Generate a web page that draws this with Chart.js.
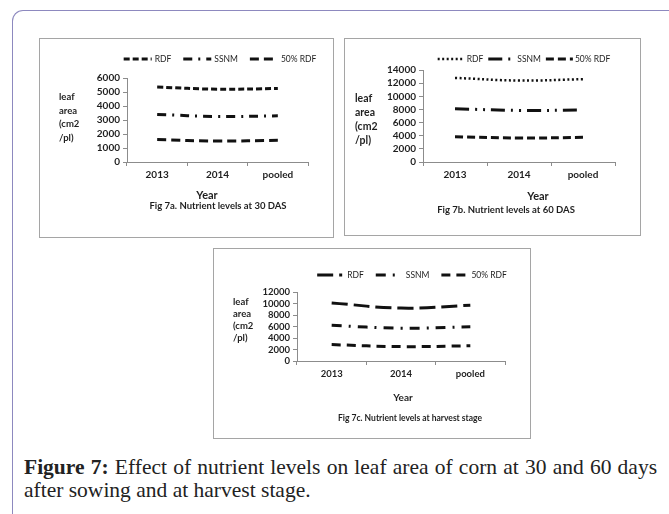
<!DOCTYPE html>
<html>
<head>
<meta charset="utf-8">
<script src="https://cdn.jsdelivr.net/npm/chart.js@4.4.1/dist/chart.umd.min.js"></script>
<style>
html, body { margin: 0; padding: 0; background: #fff; width: 669px; height: 514px; overflow: hidden; }
#frame { position: absolute; left: 12px; top: 10px; width: 720px; height: 600px; border-top: 1.5px solid #8d89bf; border-left: 1.5px solid #8d89bf; border-top-left-radius: 11px; }
.panel { position: absolute; border: 1px solid #a5a5a5; box-sizing: border-box; }
.panel canvas { position: absolute; left: -1px; top: -1px; }
#caption { position: absolute; left: 24px; top: 456px; width: 633px; font-family: "Liberation Serif", "Times New Roman", serif; font-size: 21.5px; line-height: 23px; color: #222; }
#caption .l1 { text-align: justify; text-align-last: justify; white-space: nowrap; }
</style>
</head>
<body>
<div id="frame"></div>
<div class="panel" style="left:39px;top:38px;width:295px;height:200px"><canvas id="c30"></canvas></div>
<div class="panel" style="left:344px;top:38px;width:297px;height:198px"><canvas id="c60"></canvas></div>
<div class="panel" style="left:213px;top:248px;width:318px;height:191px"><canvas id="cHarvest"></canvas></div>
<div id="caption"><div class="l1"><b>Figure 7:</b> Effect of nutrient levels on leaf area of corn at 30 and 60 days</div><div>after sowing and at harvest stage.</div></div>
<script>
// data
const years = ['2013', '2014', 'pooled'];
const seriesNames = ['RDF', 'SSNM', '50% RDF'];

const rdf30 = [5350, 5200, 5250];
const ssnm30 = [3400, 3250, 3300];
const half30 = [1600, 1500, 1550];

const rdf60 = [12800, 12400, 12600];
const ssnm60 = [8100, 7850, 7900];
const half60 = [3850, 3650, 3750];

const rdfHarvest = [10100, 9200, 9700];
const ssnmHarvest = [6200, 5700, 5950];
const halfHarvest = [2850, 2500, 2650];

const ticks30 = [0, 1000, 2000, 3000, 4000, 5000, 6000];
const ticks60 = [0, 2000, 4000, 6000, 8000, 10000, 12000, 14000];
const ticksHarvest = [0, 2000, 4000, 6000, 8000, 10000, 12000];

const yTitle = ['leaf', 'area', '(cm2', '/pl)'];
const xTitle = 'Year';
const titles = ['Fig 7a. Nutrient levels at 30 DAS', 'Fig 7b. Nutrient levels at 60 DAS', 'Fig 7c. Nutrient levels at harvest stage'];

const ink = '#1f1f1f';
const axisGray = '#8c8c8c';
const FONT = 'Lato, "Open Sans", sans-serif';

// legend, axis title and panel title, drawn on the canvas
const sideText = {
    id: 'sideText',
    afterDraw(chart, args, o) {
        const ctx = chart.ctx;
        ctx.save();
        ctx.fillStyle = ink;
        ctx.textBaseline = 'middle';

        ctx.textAlign = 'left';
        ctx.font = `bold ${o.yFont}px ${FONT}`;
        o.yText.forEach((t, i) => ctx.fillText(t, o.yX, o.yY + i * o.yStep));

        ctx.textAlign = 'center';
        ctx.font = `bold ${o.xFont}px ${FONT}`;
        ctx.fillText(o.xText, o.xX, o.xY);
        ctx.font = `bold ${o.tFont}px ${FONT}`;
        ctx.fillText(o.tText, o.tX, o.tY);

        ctx.textAlign = 'left';
        ctx.font = `${o.legFont}px ${FONT}`;
        const sets = chart.data.datasets;
        const widths = sets.map(d => ctx.measureText(d.label).width);
        let total = o.spacing * (sets.length - 1);
        widths.forEach(w => total += o.lineLen + o.gap + w);
        let x = o.legX - total / 2;
        sets.forEach((d, i) => {
            ctx.beginPath();
            ctx.setLineDash(d.borderDash);
            ctx.lineWidth = d.borderWidth;
            ctx.strokeStyle = d.borderColor;
            ctx.moveTo(x, o.legY); ctx.lineTo(x + o.lineLen, o.legY);
            ctx.stroke();
            ctx.setLineDash([]);
            ctx.fillText(d.label, x + o.lineLen + o.gap, o.legY);
            x += o.lineLen + o.gap + widths[i] + o.spacing;
        });
        ctx.restore();
    }
};

function makePanel(id, w, h, values, dashes, lineWidths, ticks, lay, text) {
    const cv = document.getElementById(id);
    cv.width = w; cv.height = h;
    cv.style.width = w + 'px'; cv.style.height = h + 'px';
    const tickFont = { family: FONT, weight: 'bold', size: lay.tickFont };
    return new Chart(cv, {
        type: 'line',
        data: {
            labels: years,
            datasets: seriesNames.map((n, i) => ({
                label: n, data: values[i], borderColor: '#111', borderWidth: lineWidths[i],
                borderDash: dashes[i], pointRadius: 0, tension: 0.4, fill: false
            }))
        },
        options: {
            responsive: false, animation: false, devicePixelRatio: 1,
            layout: { padding: { top: lay.top, left: 0, right: w - lay.right, bottom: h - lay.bottom - 20 } },
            plugins: { legend: { display: false }, tooltip: { enabled: false }, sideText: text },
            scales: {
                x: {
                    offset: true,
                    grid: { offset: true, drawOnChartArea: false, tickLength: 4, color: axisGray },
                    border: { color: axisGray },
                    ticks: { color: ink, font: tickFont, padding: 3, maxRotation: 0 },
                    afterFit: s => { s.height = 20; }
                },
                y: {
                    min: ticks[0], max: ticks[ticks.length - 1],
                    afterBuildTicks: s => { s.ticks = ticks.map(v => ({ value: v })); },
                    grid: { drawOnChartArea: false, tickLength: 4, color: axisGray },
                    border: { color: axisGray },
                    ticks: { color: ink, font: tickFont, padding: 3, autoSkip: false, callback: v => String(v) },
                    afterFit: s => { s.width = lay.left; }
                }
            }
        },
        plugins: [sideText]
    });
}

makePanel('c30', 295, 200, [rdf30, ssnm30, half30],
    [[6, 3], [9, 6, 2, 6], [9, 5]], [3, 3, 3], ticks30,
    { top: 40, left: 88, right: 269, bottom: 124, tickFont: 10 },
    { yText: yTitle, yX: 20, yY: 59, yStep: 13.7, yFont: 9.5,
      xText: xTitle, xX: 168, xY: 157, xFont: 11,
      tText: titles[0], tX: 179, tY: 168, tFont: 9.5,
      legX: 181, legY: 21, legFont: 8.5, lineLen: 28, gap: 3, spacing: 12 });

makePanel('c60', 297, 198, [rdf60, ssnm60, half60],
    [[2, 2.5], [14, 6, 2, 6, 2, 6], [8, 4]], [2.5, 3, 3], ticks60,
    { top: 32, left: 79, right: 271, bottom: 124, tickFont: 10 },
    { yText: yTitle, yX: 11, yY: 61, yStep: 14, yFont: 10.5,
      xText: xTitle, xX: 194, xY: 158, xFont: 11,
      tText: titles[1], tX: 162, tY: 172, tFont: 9.5,
      legX: 180, legY: 21, legFont: 8.5, lineLen: 27, gap: 2, spacing: 5 });

makePanel('cHarvest', 318, 191, [rdfHarvest, ssnmHarvest, halfHarvest],
    [[16, 6], [10, 7, 2, 7], [9, 6]], [3, 3, 3], ticksHarvest,
    { top: 44, left: 84, right: 292, bottom: 113, tickFont: 9.5 },
    { yText: yTitle, yX: 20, yY: 54, yStep: 12, yFont: 9.5,
      xText: xTitle, xX: 190, xY: 150, xFont: 10,
      tText: titles[2], tX: 197, tY: 170, tFont: 8.5,
      legX: 199, legY: 27, legFont: 8.5, lineLen: 25, gap: 5, spacing: 12 });
</script>
</body>
</html>
